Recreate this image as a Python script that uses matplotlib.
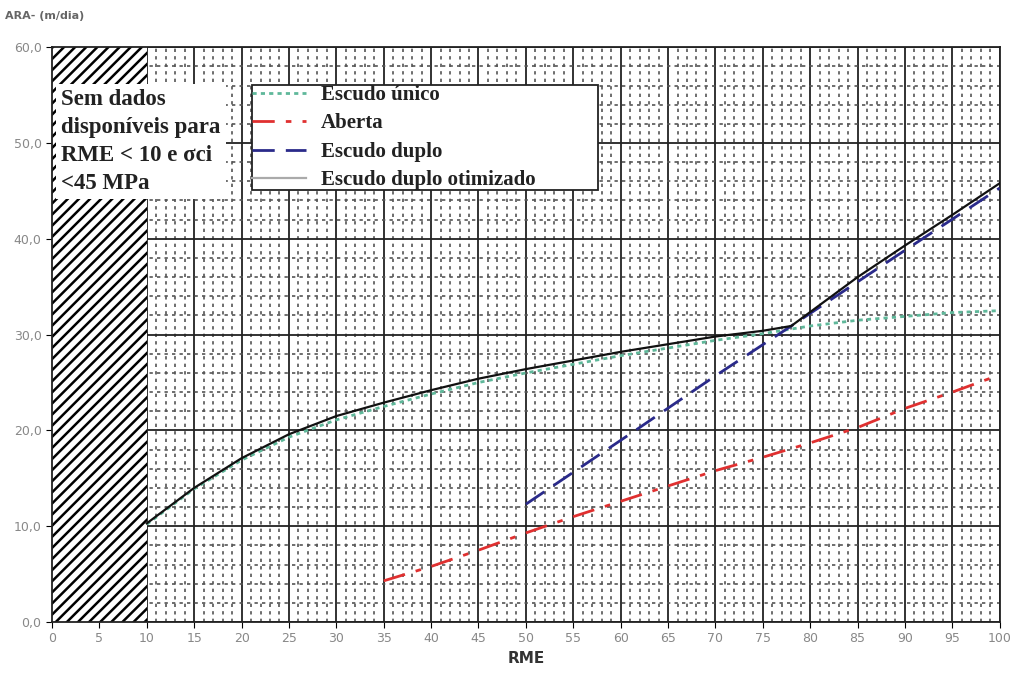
import numpy as np
import matplotlib.pyplot as plt
from matplotlib.ticker import MultipleLocator

# data
rme_unico = [10, 15, 20, 25, 30, 35, 40, 45, 50, 55, 60, 65, 70, 75, 80, 85, 90, 95, 100]
ara_unico = [10.2, 13.9, 16.9, 19.3, 21.1, 22.5, 23.8, 25.0, 26.0, 26.9, 27.8, 28.6, 29.4, 30.1, 30.9, 31.5, 31.9, 32.3, 32.5]

rme_aberta = [35, 40, 45, 50, 55, 60, 65, 70, 75, 80, 85, 90, 95, 100]
ara_aberta = [4.3, 5.8, 7.5, 9.3, 11.0, 12.6, 14.2, 15.8, 17.2, 18.7, 20.3, 22.3, 24.0, 25.8]

rme_duplo = [50, 62, 70, 78, 90, 100]
ara_duplo = [12.3, 20.3, 25.7, 30.9, 38.8, 45.3]

rme_otim = [10, 15, 20, 25, 30, 35, 40, 45, 50, 55, 60, 65, 70, 75, 78, 85, 90, 95, 100]
ara_otim = [10.3, 14.0, 17.1, 19.6, 21.5, 22.9, 24.2, 25.4, 26.4, 27.3, 28.2, 29.0, 29.8, 30.4, 30.9, 36.0, 39.3, 42.5, 45.8]

plt.rcParams['hatch.linewidth'] = 1.8

fig = plt.figure(figsize=(10.16, 6.84), dpi=100)
ax = fig.add_axes([0.0512, 0.0906, 0.9328, 0.8404])

ax.set_xlim(0, 100)
ax.set_ylim(0, 60)

# grid
ax.xaxis.set_major_locator(MultipleLocator(5))
ax.yaxis.set_major_locator(MultipleLocator(10))
ax.xaxis.set_minor_locator(MultipleLocator(1))
ax.yaxis.set_minor_locator(MultipleLocator(2))
ax.grid(which='minor', color='#555555', linestyle=(0, (2, 2.5)), linewidth=1.2)
ax.grid(which='major', color='#222222', linestyle='-', linewidth=1.3)
ax.set_axisbelow(True)

# no data region
ax.fill_between([0, 10], 0, 60, facecolor='white', edgecolor='black', hatch='///', linewidth=0, zorder=1.5)

ax.plot(rme_unico, ara_unico, color='#5fb89a', linestyle=(0, (1.5, 1.5)), linewidth=2, label='Escudo único', zorder=3)
ax.plot(rme_aberta, ara_aberta, color='#e03030', linestyle=(0, (8, 4, 2, 4)), linewidth=2, label='Aberta', zorder=3)
ax.plot(rme_duplo, ara_duplo, color='#2a2a8a', linestyle=(0, (8, 4)), linewidth=2, label='Escudo duplo', zorder=3)
ax.plot(rme_otim, ara_otim, color='#111111', linestyle='-', linewidth=1.6, label='Escudo duplo otimizado', zorder=3.5)

ax.set_xticks(range(0, 101, 5))
ax.set_yticks(range(0, 61, 10))
ax.set_yticklabels([f"{v},0" for v in range(0, 61, 10)])
ax.tick_params(axis='both', which='major', labelsize=9, labelcolor='#888888', length=4)
ax.tick_params(which='minor', length=0)

for s in ax.spines.values():
    s.set_color('#222222')
    s.set_linewidth(1.3)

ax.set_xlabel('RME', fontsize=11, fontweight='bold', color='#333333')
fig.text(0.005, 0.972, 'ARA- (m/dia)', fontsize=8, fontweight='bold', color='#666666')

ax.text(1.0, 55.6, 'Sem dados\ndisponíveis para\nRME < 10 e σci\n<45 MPa',
        family='Liberation Serif', fontsize=16.5, fontweight='bold', color='#222222',
        va='top', ha='left', linespacing=1.42, zorder=4,
        bbox=dict(facecolor='white', edgecolor='none', pad=4))

leg = ax.legend(loc='upper left', bbox_to_anchor=(0.211, 0.834, 0.365, 0.1), mode='expand',
                prop={'family': 'Liberation Serif', 'size': 15, 'weight': 'bold'},
                frameon=True, fancybox=False, edgecolor='#222222', framealpha=1, borderpad=0.0,
                labelspacing=0.4, handlelength=2.6, handletextpad=0.7, borderaxespad=0)
leg.get_frame().set_linewidth(1.3)
leg.set_zorder(5)
leg.get_lines()[3].set_color('#aaaaaa')
for t in leg.get_texts():
    t.set_color('#222222')

fig.savefig('out.png', dpi=100)
